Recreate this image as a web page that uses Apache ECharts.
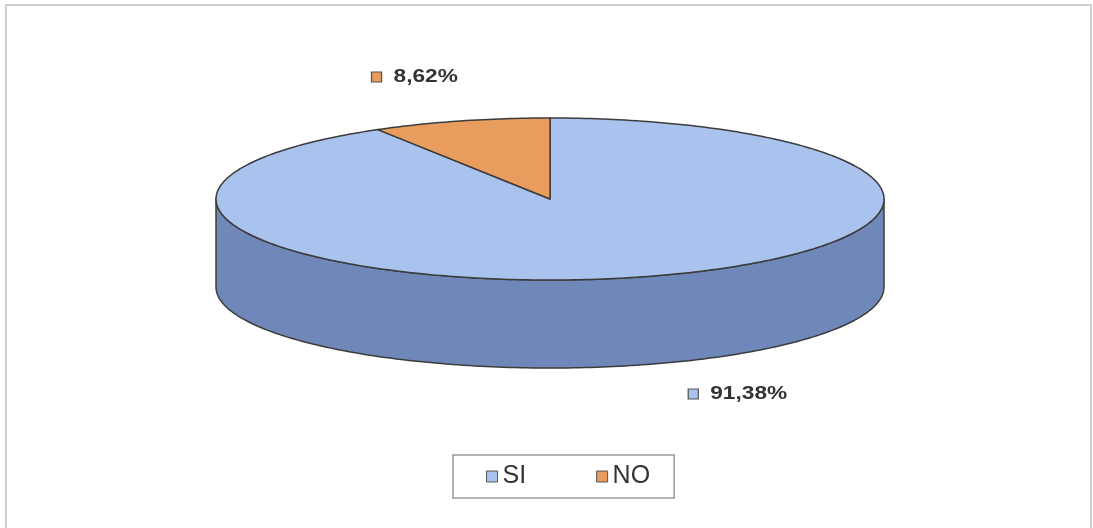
<!DOCTYPE html>
<html>
<head>
<meta charset="utf-8">
<script src="https://cdn.jsdelivr.net/npm/echarts@6/dist/echarts.min.js"></script>
<style>html,body{margin:0;padding:0;background:#fff}#c{width:1093px;height:528px}</style>
</head>
<body>
<div id="c"></div>
<script>
const categories = ['SI', 'NO'];
const values = [91.38, 8.62];
const valueLabels = ['91,38%', '8,62%'];

// layout / style (not data)
const G = { cx: 550, cy: 199, rx: 334, ry: 81, depth: 88, startAngle: 90 };
const topColors = ['#a9c3ee', '#e89d5f'];
const sideColors = ['#6f88b9', '#b3713f'];
const strokeColor = '#3c3c3c';
const labelAnchors = [[738, 394], [415, 77]];

const total = values.reduce((a, b) => a + b, 0);

function arcPts(a1, a2, yoff) {
  const pts = [];
  const steps = Math.max(2, Math.ceil(Math.abs(a2 - a1)));
  for (let i = 0; i <= steps; i++) {
    const a = (a1 + (a2 - a1) * i / steps) * Math.PI / 180;
    pts.push([G.cx + G.rx * Math.cos(a), G.cy - G.ry * Math.sin(a) + yoff]);
  }
  return pts;
}

function makeRender(s) {
  return function (params, api) {
    const v = api.value(0);
    let before = 0;
    for (let i = 0; i < s; i++) before += values[i];
    const aStart = G.startAngle - 360 * before / total;
    const aEnd = G.startAngle - 360 * (before + v) / total;
    const children = [];
    // front side faces
    for (let k = -2; k <= 1; k++) {
      const lo = Math.max(aEnd, 180 + 360 * k);
      const hi = Math.min(aStart, 360 + 360 * k);
      if (hi > lo) {
        const top = arcPts(lo, hi, 0);
        const bot = arcPts(lo, hi, G.depth).reverse();
        children.push({
          type: 'polygon',
          shape: { points: top.concat(bot) },
          style: { fill: sideColors[s], stroke: strokeColor, lineWidth: 1.5, lineJoin: 'round' }
        });
      }
    }
    // top face
    const topPts = [[G.cx, G.cy]].concat(arcPts(aStart, aEnd, 0));
    children.push({
      type: 'polygon',
      shape: { points: topPts },
      style: { fill: topColors[s], stroke: strokeColor, lineWidth: 1.5, lineJoin: 'round' }
    });
    // label
    const la = labelAnchors[s];
    children.push({
      type: 'text',
      x: la[0], y: la[1],
      scaleX: 1.26,
      style: {
        text: '{sq|}{t|  ' + valueLabels[s] + '}',
        align: 'center',
        verticalAlign: 'middle',
        rich: {
          sq: { width: 7, height: 9, backgroundColor: topColors[s], borderColor: '#555', borderWidth: 1 },
          t: { fontSize: 18, fontWeight: 'bold', fontFamily: 'Liberation Sans, Arial, sans-serif', fill: '#333', color: '#333' }
        }
      }
    });
    return { type: 'group', children };
  };
}

const chart = echarts.init(document.getElementById('c'), null, { renderer: 'canvas' });
chart.setOption({
  backgroundColor: '#ffffff',
  animation: false,
  graphic: [{
    type: 'rect',
    shape: { x: 6, y: 5, width: 1085, height: 540 },
    style: { fill: 'none', stroke: '#cfcfcf', lineWidth: 2 },
    silent: true,
    z: -10
  }],
  legend: {
    data: categories,
    left: 453,
    top: 455,
    orient: 'horizontal',
    padding: [9, 24, 9, 33],
    itemGap: 70,
    itemWidth: 11,
    itemHeight: 11,
    icon: 'rect',
    borderColor: '#9a9a9a',
    borderWidth: 1.5,
    itemStyle: { borderColor: '#555', borderWidth: 1 },
    textStyle: { fontSize: 25, color: '#333', fontFamily: 'Liberation Sans, Arial, sans-serif' }
  },
  series: categories.map((name, s) => ({
    type: 'custom',
    name: name,
    coordinateSystem: 'none',
    color: topColors[s],
    itemStyle: { color: topColors[s] },
    data: [[values[s]]],
    renderItem: makeRender(s)
  }))
});
</script>
</body>
</html>
